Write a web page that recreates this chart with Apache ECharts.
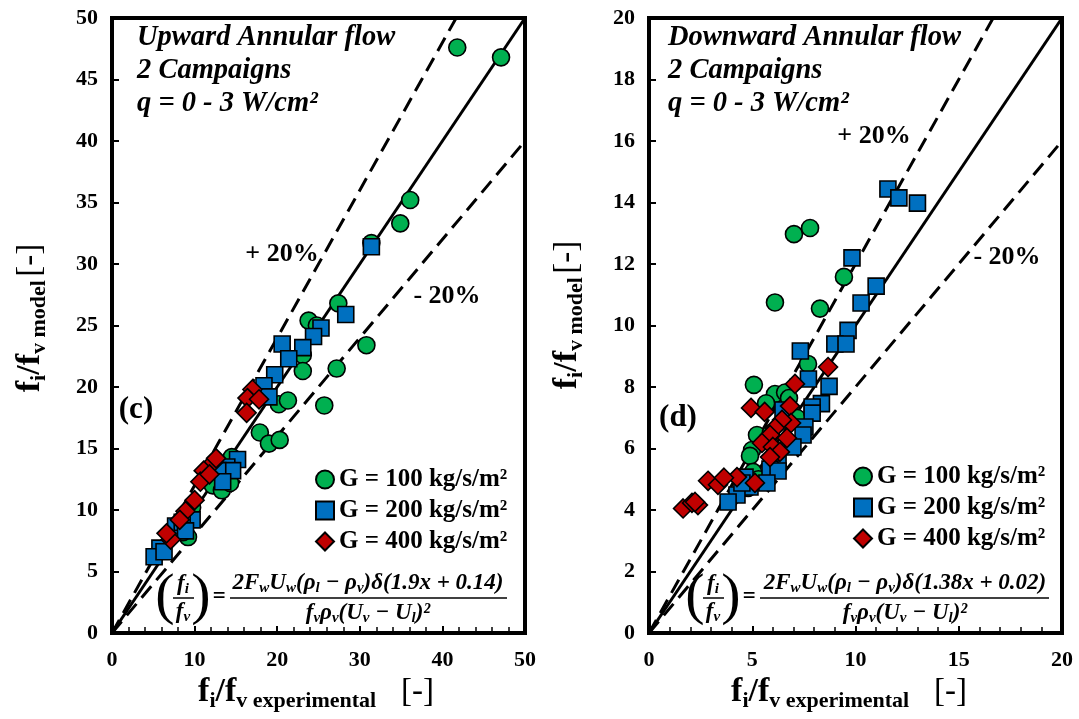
<!DOCTYPE html>
<html><head><meta charset="utf-8">
<script src="https://cdn.jsdelivr.net/npm/echarts@6/dist/echarts.min.js"></script>
<style>html,body{margin:0;padding:0;background:#fff}#c{width:1079px;height:719px}</style>
</head><body><div id="c"></div>
<script>
// ---------- DATA ----------
const seriesNames = ['G = 100 kg/s/m²', 'G = 200 kg/s/m²', 'G = 400 kg/s/m²'];
const leftAxisMax = 50;
const rightAxisMax = 20;
const leftTickInterval = 5, leftXInterval = 10;
const rightTickInterval = 2, rightXInterval = 5;

// Upward annular flow (c): [experimental, model]
const upG100 = [[41.8,47.6],[47.1,46.8],[36.1,35.2],[34.9,33.3],[31.4,31.7],[27.4,26.8],[23.8,25.4],[24.8,25.0],
  [30.8,23.4],[23.1,22.6],[23.1,21.3],[27.2,21.5],[20.2,18.6],[21.3,18.9],[25.7,18.5],[17.9,16.3],[19.0,15.4],
  [20.3,15.7],[14.5,14.3],[12.2,12.0],[13.3,11.6],[14.3,12.2],[9.7,10.2],[9.2,7.8],[8.6,8.2]];
const upG200 = [[31.4,31.4],[28.3,25.9],[25.3,24.8],[24.4,24.1],[20.6,23.5],[23.1,23.2],[21.4,22.3],[19.7,21.0],
  [18.4,20.1],[19.0,19.2],[15.2,14.1],[13.9,13.5],[14.6,13.2],[12.8,13.2],[13.4,12.3],[9.7,9.2],[7.7,8.7],
  [8.5,9.0],[5.8,6.9],[5.1,6.2],[6.3,6.6],[8.9,8.3]];
const upG400 = [[17.0,19.8],[16.4,19.1],[17.8,19.0],[16.3,17.9],[12.3,13.9],[11.1,13.2],[10.7,12.3],[10.0,10.8],
  [8.9,9.9],[8.2,9.2],[7.1,7.6],[6.6,8.1],[12.6,14.2],[11.8,12.9]];

// Downward annular flow (d)
const downG100 = [[7.02,12.97],[7.8,13.17],[9.44,11.58],[6.1,10.75],[8.28,10.55],[7.7,8.75],[5.08,8.07],[6.1,7.77],
  [6.59,7.82],[6.78,7.64],[5.67,7.47],[7.17,6.99],[5.23,6.44],[4.99,5.95],[4.89,5.76],[5.04,5.24],[5.9,6.5],
  [4.8,4.72],[5.3,5.0]];
const downG200 = [[11.57,14.44],[12.1,14.15],[13.0,13.98],[9.83,12.2],[11.0,11.28],[10.27,10.73],[9.64,9.84],
  [9.0,9.4],[9.54,9.4],[7.33,9.17],[7.72,8.26],[8.72,8.02],[8.35,7.46],[7.9,7.35],[7.9,7.15],[6.49,7.25],
  [7.55,6.7],[7.46,6.44],[6.97,6.05],[6.25,5.63],[5.86,5.33],[6.25,5.27],[4.65,5.07],[4.89,4.75],[5.71,4.88],
  [4.26,4.49],[3.83,4.26],[4.5,4.88]];
const downG400 = [[8.67,8.65],[7.07,8.1],[4.94,7.32],[5.6,7.19],[6.83,7.38],[6.88,6.83],[6.44,6.93],[6.1,6.67],
  [5.86,6.44],[6.68,6.34],[5.47,6.18],[6.0,6.05],[6.34,5.89],[5.86,5.72],[5.13,4.88],[4.26,5.07],[2.86,4.95],
  [3.34,4.82],[3.63,5.05],[1.65,4.05],[2.08,4.23],[2.37,4.16],[2.23,4.26]];

// Reference lines (perfect agreement and ±20 %)
const leftPerfect = [[0,0],[50,50]];
const leftPlus20 = [[0,0],[41.667,50]];
const leftMinus20 = [[0,0],[50,40]];
const rightPerfect = [[0,0],[20,20]];
const rightPlus20 = [[0,0],[16.667,20]];
const rightMinus20 = [[0,0],[20,16]];

// ---------- STYLE ----------
const SERIF = '"Liberation Serif", "Times New Roman", serif';
const colors = ['#00B050', '#0070C0', '#C00000'];
const symbols = ['circle', 'rect', 'diamond'];
const sizes = [17, 16, 19];

function xAxis(gi, max, interval) {
  return {
    gridIndex: gi, type: 'value', min: 0, max: max, interval: interval,
    axisLine: {show: true, onZero: false, lineStyle: {color: '#000', width: 3}},
    axisTick: {show: true, inside: true, length: 7, lineStyle: {color: '#000', width: 2}},
    minorTick: {show: true, splitNumber: 5, length: 6, lineStyle: {color: '#000', width: 1.5}},
    splitLine: {show: false}, minorSplitLine: {show: false},
    axisLabel: {color: '#000', fontFamily: SERIF, fontWeight: 'bold', fontSize: 22, margin: 16}
  };
}
function yAxis(gi, max, interval) {
  return {
    gridIndex: gi, type: 'value', min: 0, max: max, interval: interval,
    axisLine: {show: true, onZero: false, lineStyle: {color: '#000', width: 3}},
    axisTick: {show: true, inside: true, length: 7, lineStyle: {color: '#000', width: 2}},
    splitLine: {show: false},
    axisLabel: {color: '#000', fontFamily: SERIF, fontWeight: 'bold', fontSize: 22, margin: 14}
  };
}
function scatter(i, gi, data) {
  return {
    type: 'scatter', name: seriesNames[i], xAxisIndex: gi, yAxisIndex: gi, data: data,
    symbol: symbols[i], symbolSize: sizes[i], z: 3 + i,
    itemStyle: {color: colors[i], borderColor: '#000', borderWidth: 1.6, opacity: 1}
  };
}
function refLine(gi, data, dashed) {
  return {
    type: 'line', xAxisIndex: gi, yAxisIndex: gi, data: data, symbol: 'none', silent: true, z: 2,
    lineStyle: {color: '#000', width: 3, type: dashed ? [15, 8] : 'solid'}
  };
}

const richMain = {
  f: {fontFamily: SERIF, fontWeight: 'bold', fontSize: 34, color: '#000'},
  s: {fontFamily: SERIF, fontWeight: 'bold', fontSize: 22, color: '#000', padding: [18, 0, 0, 0]},
  b: {fontFamily: SERIF, fontSize: 33, color: '#000'}
};
const richEq = {
  t: {fontFamily: SERIF, fontWeight: 'bold', fontStyle: 'italic', fontSize: 23, color: '#000'},
  s: {fontFamily: SERIF, fontWeight: 'bold', fontStyle: 'italic', fontSize: 15, color: '#000', padding: [11, 0, 0, 0]},
  p: {fontFamily: SERIF, fontSize: 58, color: '#000'}
};

function eqGraphics(parenX, numCx, numL, numR, coef) {
  const g = [];
  g.push({type: 'text', x: parenX, y: 598, style: {text: '{p|(}', rich: richEq, align: 'center', verticalAlign: 'middle'}});
  g.push({type: 'text', x: parenX + 36, y: 598, style: {text: '{p|)}', rich: richEq, align: 'center', verticalAlign: 'middle'}});
  g.push({type: 'text', x: parenX + 18, y: 584, style: {text: '{t|f}{s|i}', rich: richEq, align: 'center', verticalAlign: 'middle'}});
  g.push({type: 'text', x: parenX + 18, y: 612, style: {text: '{t|f}{s|v}', rich: richEq, align: 'center', verticalAlign: 'middle'}});
  g.push({type: 'line', shape: {x1: parenX + 8, y1: 598, x2: parenX + 29, y2: 598}, style: {stroke: '#000', lineWidth: 1.5}});
  g.push({type: 'text', x: parenX + 54, y: 597, style: {text: '{t|=}', rich: richEq, align: 'center', verticalAlign: 'middle'}});
  g.push({type: 'text', x: numCx, y: 583, style: {
    text: '{t|2F}{s|w}{t|U}{s|w}{t|(ρ}{s|l}{t| − ρ}{s|v}{t|)δ(' + coef + ')}', rich: richEq, align: 'center', verticalAlign: 'middle'}});
  g.push({type: 'line', shape: {x1: numL, y1: 598, x2: numR, y2: 598}, style: {stroke: '#000', lineWidth: 1.5}});
  g.push({type: 'text', x: numCx, y: 613, style: {
    text: '{t|f}{s|v}{t|ρ}{s|v}{t|(U}{s|v}{t| − U}{s|l}{t|)²}', rich: richEq, align: 'center', verticalAlign: 'middle'}});
  return g;
}

function plainText(x, y, text, font) {
  return {type: 'text', x: x, y: y, style: {text: text, font: font, fill: '#000', align: 'center', verticalAlign: 'middle'}};
}

const graphics = [
  {type: 'text', x: 137, y: 21, style: {text: 'Upward Annular flow\n2 Campaigns\nq = 0 - 3 W/cm²', font: 'italic bold 28.5px ' + SERIF, fill: '#000', lineHeight: 33}},
  {type: 'text', x: 668, y: 21, style: {text: 'Downward Annular flow\n2 Campaigns\nq = 0 - 3 W/cm²', font: 'italic bold 28.5px ' + SERIF, fill: '#000', lineHeight: 33}},
  plainText(282, 254, '+ 20%', 'bold 26px ' + SERIF),
  plainText(447, 296, '- 20%', 'bold 26px ' + SERIF),
  plainText(874, 136, '+ 20%', 'bold 26px ' + SERIF),
  plainText(1007, 257, '- 20%', 'bold 26px ' + SERIF),
  plainText(136, 410, '(c)', 'bold 31px ' + SERIF),
  plainText(678, 418, '(d)', 'bold 31px ' + SERIF),
  // axis titles
  {type: 'text', x: 316, y: 692, style: {text: '{f|f}{s|i}{f|/f}{s|v experimental}{b|   [-]}', rich: richMain, align: 'center', verticalAlign: 'middle'}},
  {type: 'text', x: 849, y: 692, style: {text: '{f|f}{s|i}{f|/f}{s|v experimental}{b|   [-]}', rich: richMain, align: 'center', verticalAlign: 'middle'}},
  {type: 'text', x: 30, y: 318, rotation: Math.PI / 2, style: {text: '{f|f}{s|i}{f|/f}{s|v model} {b|[-]}', rich: richMain, align: 'center', verticalAlign: 'middle'}},
  {type: 'text', x: 567, y: 315, rotation: Math.PI / 2, style: {text: '{f|f}{s|i}{f|/f}{s|v model} {b|[-]}', rich: richMain, align: 'center', verticalAlign: 'middle'}}
].concat(eqGraphics(165, 368, 230, 507, '1.9x + 0.14'))
 .concat(eqGraphics(695, 905, 760, 1049, '1.38x + 0.02'));

const legendBase = {
  orient: 'vertical', itemWidth: 18, itemHeight: 18, itemGap: 6,
  textStyle: {fontFamily: SERIF, fontWeight: 'bold', fontSize: 25, color: '#000', lineHeight: 25},
  data: seriesNames, selectedMode: false
};

const option = {
  animation: false,
  backgroundColor: '#fff',
  grid: [
    {left: 112, top: 18, width: 413, height: 615, show: true, borderColor: '#000', borderWidth: 4, backgroundColor: 'transparent'},
    {left: 649, top: 18, width: 413, height: 615, show: true, borderColor: '#000', borderWidth: 4, backgroundColor: 'transparent'}
  ],
  xAxis: [xAxis(0, leftAxisMax, leftXInterval), xAxis(1, rightAxisMax, rightXInterval)],
  yAxis: [yAxis(0, leftAxisMax, leftTickInterval), yAxis(1, rightAxisMax, rightTickInterval)],
  legend: [
    Object.assign({}, legendBase, {left: 310, top: 462}),
    Object.assign({}, legendBase, {left: 848, top: 459})
  ],
  series: [
    refLine(0, leftPerfect, false), refLine(0, leftPlus20, true), refLine(0, leftMinus20, true),
    refLine(1, rightPerfect, false), refLine(1, rightPlus20, true), refLine(1, rightMinus20, true),
    scatter(0, 0, upG100), scatter(1, 0, upG200), scatter(2, 0, upG400),
    scatter(0, 1, downG100), scatter(1, 1, downG200), scatter(2, 1, downG400)
  ],
  graphic: graphics
};
const chart = echarts.init(document.getElementById('c'), null, {renderer: 'canvas'});
chart.setOption(option);
</script>
</body></html>
